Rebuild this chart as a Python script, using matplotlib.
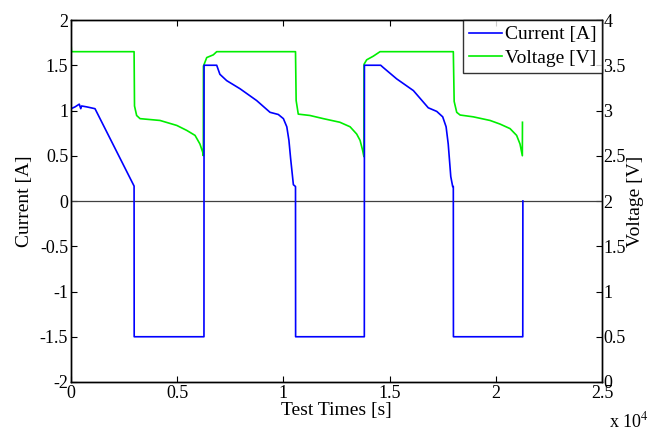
import numpy as np
import matplotlib
matplotlib.use('Agg')
import matplotlib.pyplot as plt

plt.rcParams['font.family'] = ['Liberation Serif', 'DejaVu Serif']
plt.rcParams['mathtext.fontset'] = 'stix'

# time in units of 1e4 s
cur_t = [0.0, 0.0005, 0.019, 0.039, 0.046, 0.05, 0.074, 0.113, 0.297, 0.2975,
         0.626, 0.6265, 0.686, 0.701, 0.733, 0.796, 0.874, 0.937, 0.976, 1.0, 1.016, 1.026,
         1.034, 1.047, 1.057, 1.0575,
         1.381, 1.3815, 1.458, 1.47, 1.533, 1.612, 1.682, 1.722, 1.75, 1.766, 1.776,
         1.788, 1.797, 1.80, 1.8005,
         2.127, 2.1275]
cur_v = [1.31, 1.02, 1.04, 1.07, 1.02, 1.05, 1.04, 1.02, 0.165, -1.5,
         -1.5, 1.5, 1.5, 1.40, 1.33, 1.24, 1.11, 0.98, 0.956, 0.91, 0.82, 0.67,
         0.47, 0.18, 0.16, -1.5,
         -1.5, 1.5, 1.5, 1.475, 1.35, 1.22, 1.03, 0.99, 0.93, 0.82, 0.63,
         0.27, 0.16, 0.16, -1.5,
         -1.5, 0.0]

volt_t = [0.0, 0.0005, 0.002, 0.297, 0.299, 0.309, 0.325, 0.419, 0.498, 0.545, 0.584,
          0.607, 0.62, 0.623,
          0.6235, 0.639, 0.670, 0.686, 1.057, 1.060, 1.070, 1.125, 1.188, 1.266, 1.314,
          1.345, 1.361, 1.373, 1.379,
          1.3795, 1.392, 1.423, 1.455, 1.80, 1.804, 1.816, 1.832, 1.894, 1.973, 2.02,
          2.067, 2.098, 2.114, 2.125, 2.1255]
volt_v = [3.33, 3.73, 3.65, 3.65, 3.05, 2.945, 2.91, 2.89, 2.835, 2.78, 2.725,
          2.63, 2.54, 2.5,
          3.49, 3.585, 3.615, 3.65, 3.65, 3.11, 2.96, 2.945, 2.91, 2.87, 2.82,
          2.74, 2.67, 2.56, 2.49,
          3.51, 3.56, 3.60, 3.65, 3.65, 3.10, 2.98, 2.95, 2.93, 2.89, 2.85,
          2.80, 2.725, 2.63, 2.5, 2.87]

fig = plt.figure(figsize=(6.53, 4.32), dpi=100)
ax = fig.add_axes([71/653, 1-382/432, 531/653, 362/432])
ax2 = ax.twinx()

ax.axhline(0, color='#404040', lw=0.9)
l1, = ax.plot(cur_t, cur_v, color='#0000ff', lw=1.2, label='Current [A]')
l2, = ax2.plot(volt_t, volt_v, color='#00ee00', lw=1.2, label='Voltage [V]')
ax.set_zorder(ax2.get_zorder() + 1)
ax.patch.set_visible(False)

ax.set_xlim(0, 2.5)
ax.set_ylim(-2, 2)
ax2.set_ylim(0, 4)
ax.set_xticks([0, 0.5, 1, 1.5, 2, 2.5])
ax.set_xticklabels(['0', '0.5', '1', '1.5', '2', '2.5'])
ax.set_yticks([-2, -1.5, -1, -0.5, 0, 0.5, 1, 1.5, 2])
ax.set_yticklabels(['-2', '-1.5', '-1', '-0.5', '0', '0.5', '1', '1.5', '2'])
ax2.set_yticks([0, 0.5, 1, 1.5, 2, 2.5, 3, 3.5, 4])
ax2.set_yticklabels(['0', '0.5', '1', '1.5', '2', '2.5', '3', '3.5', '4'])

fs = 13
ax.tick_params(direction='in', length=4, width=0.8, labelsize=fs, top=True, pad=2)
ax.tick_params(axis='y', right=False)
ax2.tick_params(direction='in', length=4, width=0.8, labelsize=fs, pad=1)
for a in (ax, ax2):
    for s in a.spines.values():
        s.set_linewidth(1.0)

ax.set_xlabel('Test Times [s]', fontsize=14, labelpad=0)
ax.set_ylabel('Current [A]', fontsize=14, labelpad=5)
ax2.set_ylabel('Voltage [V]', fontsize=14, labelpad=1)
fig.text(609/653, 1-427/432, r'x 10$^4$', fontsize=fs, va='baseline')

leg = ax.legend(handles=[l1, l2], loc='upper right', fontsize=14, frameon=True,
                fancybox=False, edgecolor='black', borderaxespad=0, handlelength=1.7,
                handletextpad=0.15, borderpad=0.3, labelspacing=0.3)
leg.get_frame().set_linewidth(1.0)

fig.savefig('out.png', dpi=100)
